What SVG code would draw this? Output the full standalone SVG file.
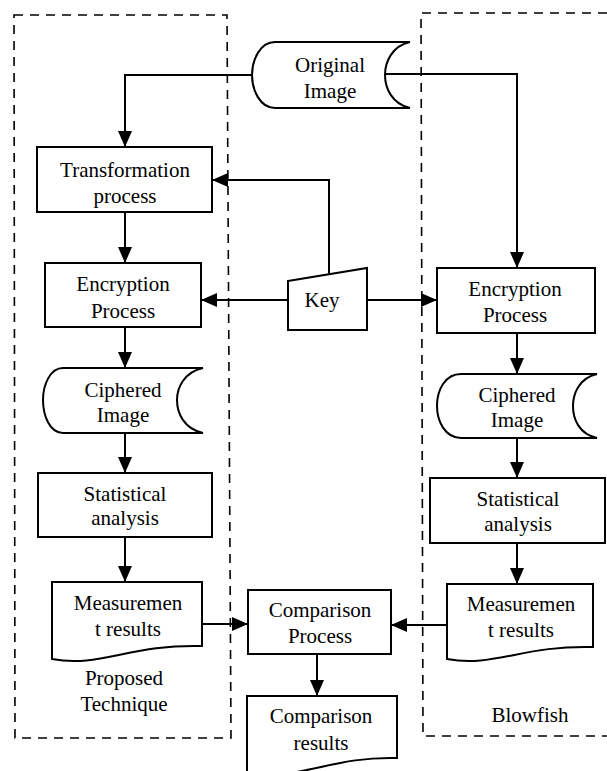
<svg xmlns="http://www.w3.org/2000/svg" width="607" height="771" viewBox="0 0 607 771">
<style>
.s{fill:#fff;stroke:#000;stroke-width:2}
.d{fill:none;stroke:#000;stroke-width:1.6;stroke-dasharray:9 7}
.c{fill:none;stroke:#000;stroke-width:2}
.t text{font-size:21px;fill:#000;text-anchor:middle}
</style>
<defs>
<marker id="arr" viewBox="0 0 16 14" refX="16" refY="7" markerWidth="16" markerHeight="14" markerUnits="userSpaceOnUse" orient="auto">
<path d="M0,0 L16,7 L0,14 z" fill="#000"/>
</marker>
</defs>
<rect width="607" height="771" fill="#fff"/>
<g id="groups">
<path class="d" d="M14,15 H227 L231,738 H15 Z"/>
<path class="d" d="M607,13 H421 L423,736 H607"/>
</g>
<g id="connectors" class="c">
<polyline points="252,75 125,75 125,147" marker-end="url(#arr)"/>
<polyline points="385,74 517,74 517,268" marker-end="url(#arr)"/>
<polyline points="329,274 329,180 212,180" marker-end="url(#arr)"/>
<line x1="288" y1="300" x2="201" y2="300" marker-end="url(#arr)"/>
<line x1="367" y1="300" x2="437" y2="300" marker-end="url(#arr)"/>
<line x1="125" y1="212" x2="125" y2="263" marker-end="url(#arr)"/>
<line x1="125" y1="327" x2="125" y2="368" marker-end="url(#arr)"/>
<line x1="125" y1="433" x2="125" y2="473" marker-end="url(#arr)"/>
<line x1="125" y1="537" x2="125" y2="582" marker-end="url(#arr)"/>
<line x1="517" y1="333" x2="517" y2="374" marker-end="url(#arr)"/>
<line x1="517" y1="438" x2="517" y2="478" marker-end="url(#arr)"/>
<line x1="517" y1="543" x2="517" y2="584" marker-end="url(#arr)"/>
<line x1="200" y1="624" x2="248" y2="624" marker-end="url(#arr)"/>
<line x1="447" y1="625" x2="391" y2="625" marker-end="url(#arr)"/>
<line x1="317" y1="654" x2="317" y2="696" marker-end="url(#arr)"/>
</g>
<g class="t" font-family="'Liberation Serif', Tinos, 'Times New Roman', 'DejaVu Serif', serif">
<g id="original-image">
<path class="s" d="M275,42 H410 C392,46 385,62 385,75 C385,88 392,104 410,108 H275 C260,108 252,90 252,75 C252,60 260,42 275,42 Z"/>
<text x="330" y="72">Original</text>
<text x="330" y="98">Image</text>
</g>
<g id="transformation">
<rect class="s" x="37" y="147" width="175" height="65"/>
<text x="125" y="177">Transformation</text>
<text x="125" y="203">process</text>
</g>
<g id="key">
<path class="s" d="M288,281 L367,268 L367,330 L288,330 Z"/>
<text x="322" y="307">Key</text>
</g>
<g id="encryption-left">
<rect class="s" x="45" y="263" width="156" height="64"/>
<text x="123" y="291">Encryption</text>
<text x="123" y="318">Process</text>
</g>
<g id="ciphered-left">
<path class="s" d="M63,368 H203 C184,372 177,388 177,400 C177,413 184,429 203,433 H63 C50,433 43,416 43,400 C43,385 50,368 63,368 Z"/>
<text x="123" y="397">Ciphered</text>
<text x="123" y="422">Image</text>
</g>
<g id="statistical-left">
<rect class="s" x="38" y="473" width="174" height="64"/>
<text x="125" y="501">Statistical</text>
<text x="125" y="525">analysis</text>
</g>
<g id="measurement-left">
<path class="s" d="M52,582 H202 V646 C130,644 100,668 52,659 Z"/>
<text x="128" y="610">Measuremen</text>
<text x="128" y="636">t results</text>
</g>
<g id="encryption-right">
<rect class="s" x="437" y="268" width="158" height="65"/>
<text x="515" y="296">Encryption</text>
<text x="515" y="322">Process</text>
</g>
<g id="ciphered-right">
<path class="s" d="M461,374 H597 C579,378 573,394 573,406 C573,419 579,434 597,438 H461 C445,438 437,421 437,406 C437,390 445,374 461,374 Z"/>
<text x="517" y="402">Ciphered</text>
<text x="517" y="427">Image</text>
</g>
<g id="statistical-right">
<rect class="s" x="430" y="478" width="175" height="65"/>
<text x="518" y="506">Statistical</text>
<text x="518" y="531">analysis</text>
</g>
<g id="measurement-right">
<path class="s" d="M447,584 H593 V647 C523,645 493,668 447,659 Z"/>
<text x="521" y="611">Measuremen</text>
<text x="521" y="637">t results</text>
</g>
<g id="comparison-process">
<rect class="s" x="248" y="590" width="143" height="64"/>
<text x="320" y="617">Comparison</text>
<text x="320" y="643">Process</text>
</g>
<g id="comparison-results">
<path class="s" d="M247,696 H397 V758 C330,756 300,782 247,772 Z"/>
<text x="321" y="723">Comparison</text>
<text x="321" y="750">results</text>
</g>
<g id="labels">
<text x="124" y="685">Proposed</text>
<text x="124" y="711">Technique</text>
<text x="530" y="722">Blowfish</text>
</g>
</g>
</svg>
